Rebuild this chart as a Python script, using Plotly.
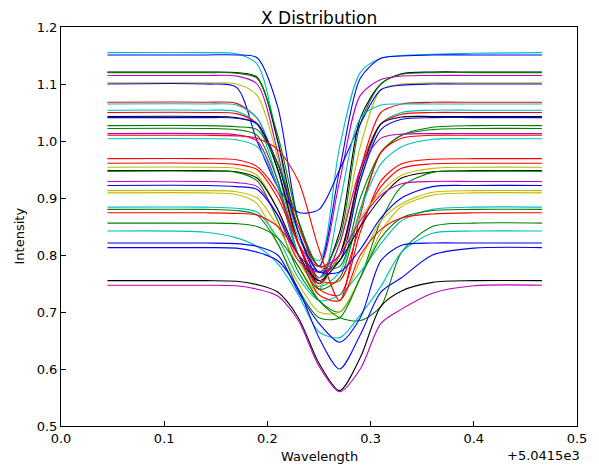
import plotly.graph_objects as go

# Wavelength offsets (x axis shows value - 5041.5, with "+5.0415e3" offset text)
wl_offset = 5.0415e3
wavelength = [0.045, 0.14, 0.17, 0.19, 0.21, 0.23, 0.25, 0.27, 0.29, 0.31, 0.33, 0.36, 0.40, 0.466]

# Intensity of each profile, sampled at the wavelengths above
cyan_1155 = [1.155, 1.155, 1.153, 1.135, 1.00, 0.83, 0.79, 0.99, 1.12, 1.145, 1.15, 1.152, 1.154, 1.155]
blue_1151 = [1.151, 1.151, 1.151, 1.146, 1.06, 0.86, 0.78, 0.95, 1.11, 1.145, 1.149, 1.151, 1.151, 1.151]
black_1121 = [1.121, 1.121, 1.120, 1.112, 1.00, 0.84, 0.76, 0.84, 1.04, 1.10, 1.118, 1.121, 1.121, 1.121]
green_1120 = [1.120, 1.120, 1.119, 1.11, 1.01, 0.86, 0.77, 0.83, 1.03, 1.10, 1.117, 1.120, 1.120, 1.120]
magenta_1115 = [1.115, 1.115, 1.114, 1.10, 0.98, 0.82, 0.78, 0.93, 1.08, 1.108, 1.114, 1.115, 1.115, 1.115]
yellow_1102 = [1.102, 1.102, 1.100, 1.08, 0.97, 0.82, 0.75, 0.82, 0.99, 1.09, 1.10, 1.102, 1.102, 1.102]
blue_1100 = [1.100, 1.100, 1.094, 1.00, 0.92, 0.875, 0.88, 0.95, 1.03, 1.09, 1.098, 1.100, 1.100, 1.100]
red_1068 = [1.068, 1.068, 1.066, 1.04, 0.95, 0.82, 0.76, 0.80, 0.95, 1.05, 1.065, 1.068, 1.068, 1.068]
cyan_1065 = [1.065, 1.065, 1.063, 1.04, 0.95, 0.80, 0.74, 0.89, 1.04, 1.063, 1.065, 1.065, 1.065, 1.065]
cyan_1054 = [1.054, 1.054, 1.052, 1.03, 0.93, 0.80, 0.76, 0.80, 0.93, 1.03, 1.05, 1.054, 1.054, 1.054]
red_1050 = [1.050, 1.050, 1.048, 1.03, 0.96, 0.85, 0.78, 0.80, 0.95, 1.03, 1.047, 1.050, 1.050, 1.050]
black_1043 = [1.043, 1.043, 1.041, 1.03, 0.95, 0.82, 0.75, 0.80, 0.94, 1.03, 1.042, 1.043, 1.043, 1.043]
blue_1041 = [1.041, 1.041, 1.040, 1.03, 0.96, 0.84, 0.77, 0.79, 0.93, 1.02, 1.038, 1.041, 1.041, 1.041]
green_1027 = [1.027, 1.027, 1.025, 1.02, 0.96, 0.86, 0.78, 0.78, 0.90, 0.98, 1.01, 1.024, 1.027, 1.027]
green_1022 = [1.022, 1.022, 1.020, 1.01, 0.93, 0.80, 0.74, 0.76, 0.88, 0.98, 1.01, 1.020, 1.022, 1.022]
magenta_1013 = [1.013, 1.013, 1.011, 1.00, 0.92, 0.80, 0.75, 0.82, 0.95, 1.005, 1.012, 1.013, 1.013, 1.013]
red_1010 = [1.010, 1.010, 1.009, 1.005, 0.985, 0.93, 0.81, 0.72, 0.87, 0.98, 1.005, 1.010, 1.010, 1.010]
cyan_1004 = [1.004, 1.004, 1.002, 0.99, 0.92, 0.80, 0.745, 0.77, 0.88, 0.96, 0.99, 1.003, 1.004, 1.004]
red_0969 = [0.969, 0.969, 0.967, 0.955, 0.91, 0.82, 0.74, 0.73, 0.84, 0.93, 0.96, 0.968, 0.969, 0.969]
red_0961 = [0.961, 0.961, 0.959, 0.95, 0.90, 0.82, 0.755, 0.755, 0.85, 0.92, 0.952, 0.960, 0.961, 0.961]
yellow_0954 = [0.954, 0.954, 0.952, 0.94, 0.88, 0.79, 0.745, 0.80, 0.865, 0.91, 0.94, 0.952, 0.954, 0.954]
black_0948 = [0.948, 0.948, 0.946, 0.935, 0.88, 0.80, 0.755, 0.79, 0.85, 0.90, 0.935, 0.946, 0.948, 0.948]
green_0947 = [0.947, 0.947, 0.945, 0.93, 0.86, 0.77, 0.72, 0.70, 0.76, 0.86, 0.92, 0.945, 0.947, 0.947]
magenta_0929 = [0.929, 0.929, 0.927, 0.92, 0.87, 0.79, 0.77, 0.80, 0.86, 0.905, 0.925, 0.929, 0.929, 0.929]
blue_0922 = [0.922, 0.922, 0.920, 0.915, 0.87, 0.80, 0.77, 0.77, 0.81, 0.865, 0.90, 0.920, 0.922, 0.922]
yellow_0913 = [0.913, 0.913, 0.911, 0.90, 0.85, 0.78, 0.73, 0.72, 0.79, 0.86, 0.89, 0.910, 0.913, 0.913]
yellow_0909 = [0.909, 0.909, 0.906, 0.89, 0.82, 0.75, 0.70, 0.70, 0.76, 0.84, 0.885, 0.905, 0.909, 0.909]
cyan_0884 = [0.884, 0.884, 0.882, 0.875, 0.83, 0.76, 0.72, 0.73, 0.77, 0.82, 0.86, 0.880, 0.884, 0.884]
green_0880 = [0.880, 0.880, 0.878, 0.87, 0.82, 0.74, 0.69, 0.69, 0.76, 0.83, 0.865, 0.878, 0.880, 0.880]
red_0874 = [0.874, 0.874, 0.873, 0.87, 0.85, 0.80, 0.73, 0.72, 0.80, 0.845, 0.865, 0.872, 0.874, 0.874]
green_0856 = [0.856, 0.856, 0.855, 0.85, 0.83, 0.78, 0.72, 0.69, 0.685, 0.71, 0.805, 0.850, 0.856, 0.856]
cyan_0842 = [0.842, 0.840, 0.830, 0.815, 0.785, 0.73, 0.665, 0.655, 0.695, 0.745, 0.805, 0.838, 0.842, 0.842]
blue_0821 = [0.821, 0.821, 0.820, 0.815, 0.80, 0.735, 0.68, 0.647, 0.69, 0.79, 0.817, 0.821, 0.821, 0.821]
blue_0813 = [0.813, 0.813, 0.812, 0.805, 0.79, 0.74, 0.655, 0.60, 0.66, 0.735, 0.76, 0.80, 0.812, 0.813]
black_0755 = [0.755, 0.755, 0.754, 0.748, 0.735, 0.69, 0.61, 0.562, 0.62, 0.71, 0.737, 0.752, 0.755, 0.755]
magenta_0747 = [0.747, 0.747, 0.746, 0.740, 0.728, 0.685, 0.605, 0.56, 0.60, 0.68, 0.705, 0.733, 0.746, 0.747]

BLUE, GREEN, RED, CYAN, MAGENTA, YELLOW, BLACK = (
    "#0000ff", "#008000", "#ff0000", "#00bfbf", "#bf00bf", "#bfbf00", "#000000")

series = [
    (cyan_1155, CYAN), (blue_1151, BLUE), (black_1121, BLACK), (green_1120, GREEN),
    (magenta_1115, MAGENTA), (yellow_1102, YELLOW), (blue_1100, BLUE), (red_1068, RED),
    (cyan_1065, CYAN), (cyan_1054, CYAN), (red_1050, RED), (black_1043, BLACK),
    (blue_1041, BLUE), (green_1027, GREEN), (green_1022, GREEN), (magenta_1013, MAGENTA),
    (red_1010, RED), (cyan_1004, CYAN), (red_0969, RED), (red_0961, RED),
    (yellow_0954, YELLOW), (black_0948, BLACK), (green_0947, GREEN), (magenta_0929, MAGENTA),
    (blue_0922, BLUE), (yellow_0913, YELLOW), (yellow_0909, YELLOW), (cyan_0884, CYAN),
    (green_0880, GREEN), (red_0874, RED), (green_0856, GREEN), (cyan_0842, CYAN),
    (blue_0821, BLUE), (blue_0813, BLUE), (black_0755, BLACK), (magenta_0747, MAGENTA),
]

x_ticks = [0.0, 0.1, 0.2, 0.3, 0.4, 0.5]
y_ticks = [0.5, 0.6, 0.7, 0.8, 0.9, 1.0, 1.1, 1.2]

fig = go.Figure()
for values, color in series:
    fig.add_trace(go.Scatter(
        x=wavelength, y=values, mode="lines",
        line=dict(color=color, width=1.1, shape="spline", smoothing=0.8),
        showlegend=False, hoverinfo="skip"))

font = "DejaVu Sans, Arial, sans-serif"
axis_common = dict(
    showgrid=False, zeroline=False, ticks="inside", ticklen=5, tickwidth=1,
    tickcolor="black", tickfont=dict(family=font, size=13, color="black"),
)
# The page body adds an 8 px margin, so the figure is 8 px smaller and margins are shifted.
fig.update_layout(
    width=591, height=458,
    margin=dict(l=53, r=18, t=17, b=40),
    paper_bgcolor="white", plot_bgcolor="white",
    font=dict(family=font, color="black"),
    xaxis=dict(range=[0, 0.5], tickvals=x_ticks, ticktext=[f"{v:.1f}" for v in x_ticks],
               showline=True, linecolor="black", linewidth=1, mirror=True, **axis_common),
    yaxis=dict(range=[0.5, 1.2], tickvals=y_ticks, ticktext=[f"{v:.1f}" for v in y_ticks],
               showline=True, linecolor="black", linewidth=1, mirror=True, **axis_common),
    xaxis2=dict(range=[0, 0.5], tickvals=x_ticks, overlaying="x", side="top",
                showticklabels=False, showline=False, anchor="y", **axis_common),
    yaxis2=dict(range=[0.5, 1.2], tickvals=y_ticks, overlaying="y", side="right",
                showticklabels=False, showline=False, anchor="x", **axis_common),
    annotations=[
        dict(text="X Distribution", x=0.5, y=1, xref="paper", yref="paper",
             xanchor="center", yanchor="middle", yshift=9, borderpad=0, showarrow=False,
             font=dict(family=font, size=17, color="black")),
        dict(text="Wavelength", x=0.5, y=0, xref="paper", yref="paper",
             xanchor="center", yanchor="middle", yshift=-30, borderpad=0, showarrow=False,
             font=dict(family=font, size=13, color="black")),
        dict(text="+5.0415e3", x=1, y=0, xref="paper", yref="paper",
             xanchor="right", yanchor="middle", yshift=-29, xshift=4, borderpad=0,
             showarrow=False, font=dict(family=font, size=13, color="black")),
        dict(text="Intensity", x=0, y=0.5, xref="paper", yref="paper",
             xanchor="center", yanchor="middle", xshift=-42, yshift=-10, textangle=-90,
             showarrow=False, font=dict(family=font, size=13, color="black")),
    ],
)

fig.write_html("out.html")
